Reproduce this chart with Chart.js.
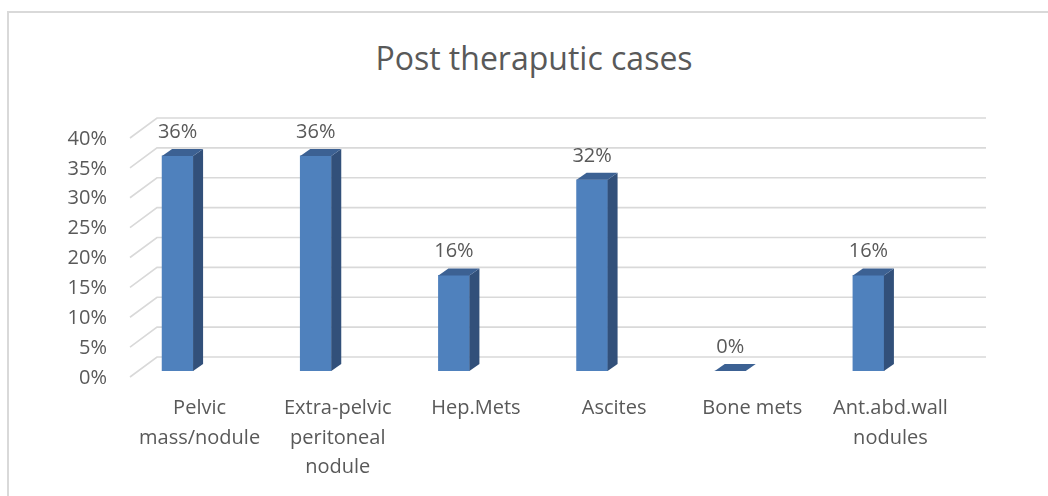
<!DOCTYPE html>
<html>
<head>
<meta charset="utf-8">
<script src="https://cdn.jsdelivr.net/npm/chart.js@4.4.1/dist/chart.umd.min.js"></script>
<style>
  body { margin: 0; background: #fff; overflow: hidden; }
  #wrap { position: relative; width: 1048px; height: 496px; }
  #frame { position: absolute; left: 7px; top: 11px; width: 1100px; height: 600px;
           border-left: 2px solid #d9d9d9; border-top: 2px solid #d9d9d9; }
  #title { position: absolute; left: 0; top: 39px; width: 1068px; text-align: center;
           font-family: "Open Sans"; font-size: 32px; line-height: 38px; color: #595959; }
  #chart { position: absolute; left: 0; top: 0; }
</style>
</head>
<body>
<div id="wrap">
  <div id="frame"></div>
  <div id="title">Post theraputic cases</div>
  <canvas id="chart" width="1048" height="496"></canvas>
</div>
<script>
const categories = [
    ['Pelvic', 'mass/nodule'],
    ['Extra-pelvic', 'peritoneal', 'nodule'],
    'Hep.Mets',
    'Ascites',
    'Bone mets',
    ['Ant.abd.wall', 'nodules']
];
const values = [36, 36, 16, 32, 0, 16];
const valueLabels = ['36%', '36%', '16%', '32%', '0%', '16%'];
const yTickLabels = ['0%', '5%', '10%', '15%', '20%', '25%', '30%', '35%', '40%'];

const textColor = '#595959';
const depthX = 10, depthY = 7;

// side wall + back wall grid lines, drawn behind the bars
const wallGrid = {
    id: 'wallGrid',
    beforeDatasetsDraw(chart) {
        const ctx = chart.ctx;
        const y = chart.scales.y;
        const area = chart.chartArea;
        ctx.save();
        ctx.strokeStyle = '#d9d9d9';
        ctx.lineWidth = 1.6;
        y.ticks.forEach(t => {
            const py = y.getPixelForValue(t.value);
            ctx.beginPath();
            ctx.moveTo(area.left + 21.5, py + 6);
            ctx.lineTo(area.left + 48.5, py - 14);
            ctx.lineTo(area.right + 48.5, py - 14);
            ctx.stroke();
        });
        ctx.restore();
    }
};

// side and top faces of each column, plus the value label
const barFaces = {
    id: 'barFaces',
    afterDatasetsDraw(chart) {
        const ctx = chart.ctx;
        ctx.save();
        chart.getDatasetMeta(0).data.forEach((bar, i) => {
            const p = bar.getProps(['x', 'y', 'base', 'width'], true);
            const l = p.x - p.width / 2, r = p.x + p.width / 2;

            ctx.fillStyle = '#32507a';
            ctx.beginPath();
            ctx.moveTo(r, p.y);
            ctx.lineTo(r + depthX, p.y - depthY);
            ctx.lineTo(r + depthX, p.base - depthY);
            ctx.lineTo(r, p.base);
            ctx.closePath();
            ctx.fill();

            ctx.fillStyle = '#3c6193';
            ctx.beginPath();
            ctx.moveTo(l, p.y);
            ctx.lineTo(l + depthX, p.y - depthY);
            ctx.lineTo(r + depthX, p.y - depthY);
            ctx.lineTo(r, p.y);
            ctx.closePath();
            ctx.fill();

            ctx.fillStyle = textColor;
            ctx.font = '20px "Open Sans"';
            ctx.textAlign = 'center';
            ctx.textBaseline = 'middle';
            ctx.fillText(valueLabels[i], p.x, p.y - 24);
        });
        ctx.restore();
    }
};

Chart.defaults.font.family = '"Open Sans"';
Chart.defaults.color = textColor;

let ctx = document.getElementById('chart').getContext('2d');
let myChart = new Chart(ctx, {
    type: 'bar',
    data: {
        labels: categories,
        datasets: [{
            data: values,
            backgroundColor: '#4f81bd',
            borderWidth: 0,
            barThickness: 31
        }]
    },
    options: {
        responsive: false,
        animation: false,
        layout: {
            padding: { left: 0, top: 132, right: 110.5, bottom: 0 }
        },
        plugins: {
            legend: { display: false },
            tooltip: { enabled: false },
            title: { display: false }
        },
        scales: {
            x: {
                grid: { display: false, drawTicks: false },
                border: { display: false },
                ticks: {
                    font: { size: 20, lineHeight: 1.47 },
                    padding: 23,
                    labelOffset: 22,
                    maxRotation: 0,
                    autoSkip: false
                },
                afterFit: function(scale) { scale.height = 125; }
            },
            y: {
                min: 0,
                max: 40,
                grid: { display: false, drawTicks: false },
                border: { display: false },
                ticks: {
                    stepSize: 5,
                    font: { size: 20 },
                    padding: 1.5,
                    labelOffset: 7,
                    callback: function(v) { return yTickLabels[v / 5]; }
                },
                afterFit: function(scale) { scale.width = 108.5; }
            }
        }
    },
    plugins: [wallGrid, barFaces]
});
</script>
</body>
</html>
